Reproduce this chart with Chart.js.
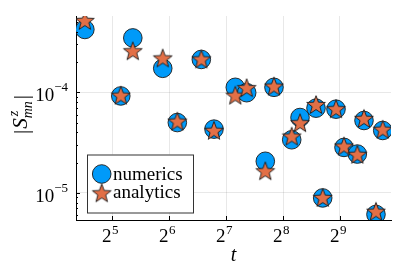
<!DOCTYPE html>
<html lang="en">
<head>
<meta charset="UTF-8">
<title>|S^z_mn| vs t</title>
<script src="https://cdn.jsdelivr.net/npm/chart.js"></script>
<style>
    html, body { margin: 0; padding: 0; background: #ffffff; }
    #wrap { width: 407px; height: 271px; }
</style>
</head>
<body>
<div id="wrap"><canvas id="szChart" width="407" height="271"></canvas></div>
<script>
// values
var tValues   = [23.0, 35.6, 41.2, 59.3, 70.8, 94.8, 110.6, 143.3, 164.6, 206.4, 229.4,
                 284.6, 314.8, 382.4, 414.8, 487.7, 537.5, 632, 685.5, 793, 860.7];
var numerics  = [4.21e-4, 9.19e-5, 3.47e-4, 1.73e-4, 5.0e-5, 2.12e-4, 4.3e-5, 1.12e-4, 9.9e-5, 2.06e-5, 1.12e-4,
                 3.37e-5, 5.61e-5, 6.95e-5, 8.9e-6, 6.79e-5, 2.83e-5, 2.43e-5, 5.24e-5, 6.1e-6, 4.17e-5];
var analytics = [5.12e-4, 9.25e-5, 2.56e-4, 2.17e-4, 5.11e-5, 2.12e-4, 4.14e-5, 9.25e-5, 1.10e-4, 1.64e-5, 1.14e-4,
                 3.63e-5, 4.93e-5, 7.48e-5, 8.9e-6, 6.79e-5, 2.89e-5, 2.39e-5, 5.44e-5, 6.49e-6, 4.24e-5];
var seriesNames = ['numerics', 'analytics'];
var xTickExps = [5, 6, 7, 8, 9];      // 2^k
var yTickExps = [-5, -4];             // 10^k

var BLUE = '#009af9';
var ORANGE = '#e26f46';
var FONT = '"Liberation Serif", "Times New Roman", serif';

function makeStar(R, fill) {
    var size = Math.ceil(R * 2 + 4);
    var c = document.createElement('canvas');
    c.width = size; c.height = size;
    var g = c.getContext('2d');
    var cx = size / 2, cy = size / 2 + R * 0.05, r = R * 0.42;
    g.beginPath();
    for (var i = 0; i < 10; i++) {
        var a = -Math.PI / 2 + i * Math.PI / 5;
        var rr = i % 2 === 0 ? R : r;
        g.lineTo(cx + rr * Math.cos(a), cy + rr * Math.sin(a));
    }
    g.closePath();
    g.fillStyle = fill;
    g.fill();
    g.lineWidth = 0.9;
    g.strokeStyle = '#1a1a1a';
    g.stroke();
    return c;
}
var star = makeStar(9.8, ORANGE);

function pts(ys) {
    return tValues.map(function (t, i) { return { x: t, y: ys[i] }; });
}

// draws the text bits (ticks with exponents, titles, legend) and inward tick marks
var decorations = {
    id: 'decorations',
    afterDraw: function (chart) {
        var ctx = chart.ctx, a = chart.chartArea;
        var xs = chart.scales.x, ys = chart.scales.y;
        ctx.save();
        ctx.strokeStyle = '#000';
        ctx.lineWidth = 1;

        // y ticks, major and minor, pointing in
        for (var k = -6; k <= -3; k++) {
            for (var m = 1; m <= 9; m++) {
                var v = m * Math.pow(10, k);
                if (v < ys.min || v > ys.max) continue;
                var py = Math.round(ys.getPixelForValue(v)) + 0.5;
                ctx.beginPath();
                ctx.moveTo(a.left, py);
                ctx.lineTo(a.left + (m === 1 ? 4 : 2), py);
                ctx.stroke();
            }
        }
        // x ticks pointing in
        xTickExps.forEach(function (e) {
            var px = Math.round(xs.getPixelForValue(Math.pow(2, e))) + 0.5;
            ctx.beginPath();
            ctx.moveTo(px, a.bottom);
            ctx.lineTo(px, a.bottom - 4);
            ctx.stroke();
        });

        ctx.fillStyle = '#000';
        // y tick labels 10^k
        yTickExps.forEach(function (e) {
            var py = ys.getPixelForValue(Math.pow(10, e));
            ctx.font = '13px ' + FONT;
            var expTxt = '\u2212' + Math.abs(e);
            var ew = ctx.measureText(expTxt).width;
            ctx.textBaseline = 'alphabetic';
            ctx.textAlign = 'right';
            ctx.fillText(expTxt, 68, py - 1);
            ctx.font = '19px ' + FONT;
            ctx.fillText('10', 68 - ew, py + 9);
        });
        // x tick labels 2^k
        xTickExps.forEach(function (e) {
            var px = xs.getPixelForValue(Math.pow(2, e));
            ctx.font = '19px ' + FONT;
            var bw = ctx.measureText('2').width;
            ctx.font = '13px ' + FONT;
            var ew = ctx.measureText(String(e)).width;
            var x0 = px - 2 - (bw + ew) / 2;
            ctx.textAlign = 'left';
            ctx.font = '19px ' + FONT;
            ctx.fillText('2', x0, a.bottom + 22);
            ctx.font = '13px ' + FONT;
            ctx.fillText(String(e), x0 + bw + 0.5, a.bottom + 14);
        });

        // x title
        ctx.font = 'italic 20px ' + FONT;
        ctx.textAlign = 'center';
        ctx.fillText('t', (a.left + a.right) / 2, 261);

        // y title |S^z_mn|
        ctx.save();
        ctx.translate(27, 114);
        ctx.rotate(-Math.PI / 2);
        ctx.textAlign = 'left';
        ctx.font = '21px ' + FONT;
        var wBar = ctx.measureText('|').width;
        ctx.font = 'italic 21px ' + FONT;
        var wS = ctx.measureText('S').width;
        ctx.font = 'italic 14px ' + FONT;
        var wz = ctx.measureText('z').width, wmn = ctx.measureText('mn').width;
        var total = wBar * 2 + wS + Math.max(wz, wmn) + 4;
        var x = -total / 2;
        ctx.font = '21px ' + FONT;
        ctx.fillText('|', x, 1); x += wBar + 1;
        ctx.font = 'italic 21px ' + FONT;
        ctx.fillText('S', x, 0); x += wS + 1;
        ctx.font = 'italic 14px ' + FONT;
        ctx.fillText('z', x + 1, -9);
        ctx.fillText('mn', x - 1, 5);
        x += Math.max(wz, wmn) + 1;
        ctx.font = '21px ' + FONT;
        ctx.fillText('|', x, 1);
        ctx.restore();

        // legend box in lower left of plot
        var lx = 87, ly = 154.5, lw = 106, lh = 58;
        ctx.fillStyle = '#fff';
        ctx.fillRect(lx, ly, lw, lh);
        ctx.strokeStyle = '#333';
        ctx.strokeRect(lx + 0.5, ly + 0.5, lw, lh);
        ctx.beginPath();
        ctx.arc(101.7, 174, 9.3, 0, Math.PI * 2);
        ctx.fillStyle = BLUE;
        ctx.fill();
        ctx.lineWidth = 0.9;
        ctx.strokeStyle = '#1a1a1a';
        ctx.stroke();
        ctx.drawImage(star, 101.7 - star.width / 2, 193.3 - star.height / 2);
        ctx.fillStyle = '#000';
        ctx.font = '19px ' + FONT;
        ctx.textAlign = 'left';
        ctx.fillText(seriesNames[0], 113, 179.5);
        ctx.fillText(seriesNames[1], 113, 198);
        ctx.restore();
    }
};

var ctx = document.getElementById('szChart').getContext('2d');
var szChart = new Chart(ctx, {
    type: 'scatter',
    data: {
        datasets: [{
            label: seriesNames[0],
            data: pts(numerics),
            order: 1,
            pointStyle: 'circle',
            pointRadius: 9.3,
            pointHoverRadius: 9.3,
            backgroundColor: BLUE,
            borderColor: '#1a1a1a',
            borderWidth: 0.9
        }, {
            label: seriesNames[1],
            data: pts(analytics),
            order: 0,
            pointStyle: star,
            pointRadius: 10,
            pointHoverRadius: 10
        }]
    },
    options: {
        responsive: false,
        animation: false,
        layout: { padding: { top: 16, right: 16, left: 0, bottom: 0 } },
        plugins: { legend: { display: false }, tooltip: { enabled: false } },
        scales: {
            x: {
                type: 'logarithmic',
                min: 20.65,
                max: 952,
                afterBuildTicks: function (scale) {
                    scale.ticks = xTickExps.map(function (e) { return { value: Math.pow(2, e) }; });
                },
                afterFit: function (scale) { scale.height = 51; },
                ticks: { display: false },
                grid: { color: 'rgba(0,0,0,0.09)', drawTicks: false },
                border: { display: true, color: '#000', width: 1 }
            },
            y: {
                type: 'logarithmic',
                min: 5.37e-6,
                max: 5.73e-4,
                afterBuildTicks: function (scale) {
                    scale.ticks = yTickExps.map(function (e) { return { value: Math.pow(10, e) }; });
                },
                afterFit: function (scale) { scale.width = 76; },
                ticks: { display: false },
                grid: { color: 'rgba(0,0,0,0.09)', drawTicks: false },
                border: { display: true, color: '#000', width: 1 }
            }
        }
    },
    plugins: [decorations]
});
</script>
</body>
</html>
